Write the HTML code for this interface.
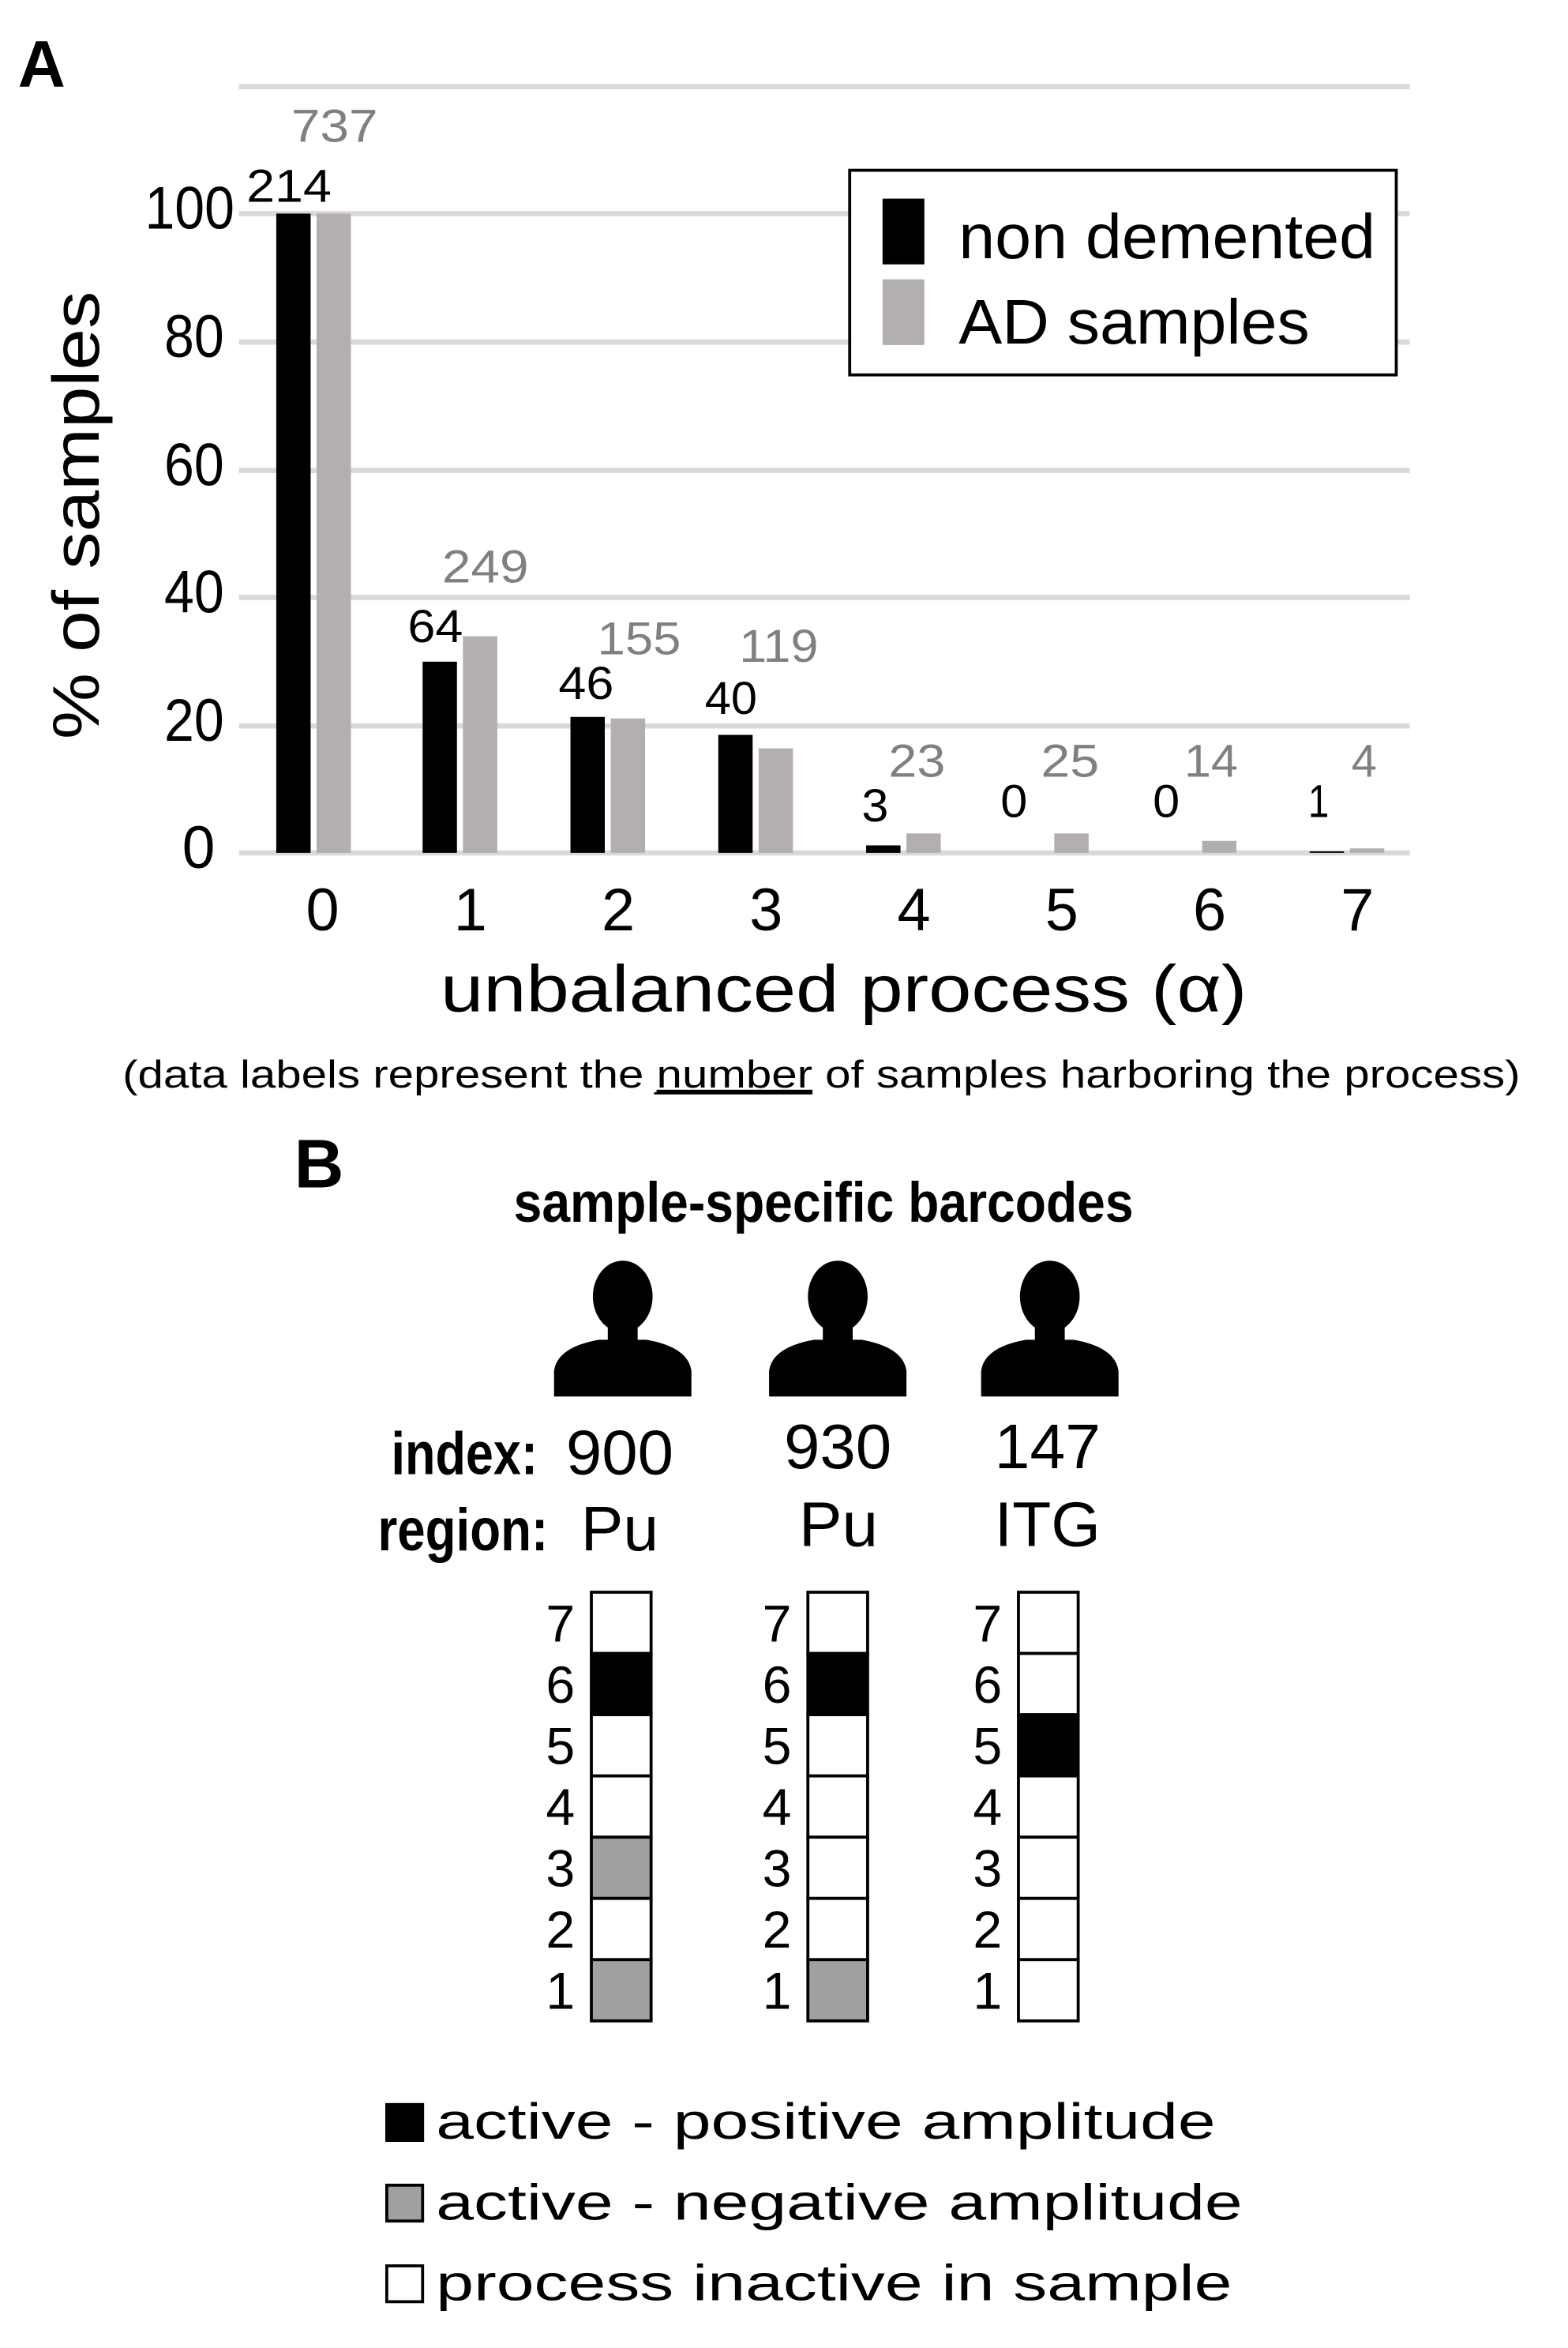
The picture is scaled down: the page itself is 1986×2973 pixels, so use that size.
<!DOCTYPE html>
<html><head><meta charset="utf-8"><style>html,body{margin:0;padding:0;background:#fff}svg{display:block}</style></head>
<body>
<svg width="1986" height="2973" viewBox="0 0 1050 1572" preserveAspectRatio="none" xmlns="http://www.w3.org/2000/svg" font-family="Liberation Sans, Arial, sans-serif">
<rect width="1050" height="1572" fill="#fff"/>
<text x="12" y="58" font-size="44" font-weight="bold">A</text>
<g stroke="#d9d9d9" stroke-width="3.5">
<line x1="160" x2="944" y1="58" y2="58"/><line x1="160" x2="944" y1="143" y2="143"/>
<line x1="160" x2="944" y1="229" y2="229"/><line x1="160" x2="944" y1="315" y2="315"/>
<line x1="160" x2="944" y1="400" y2="400"/><line x1="160" x2="944" y1="486" y2="486"/>
<line x1="160" x2="944" y1="571" y2="571"/>
</g>
<g font-size="40" text-anchor="end">
<text x="157" y="153" textLength="60" lengthAdjust="spacingAndGlyphs">100</text>
<text x="150" y="239" textLength="40" lengthAdjust="spacingAndGlyphs">80</text>
<text x="150" y="325" textLength="40" lengthAdjust="spacingAndGlyphs">60</text>
<text x="150" y="410" textLength="40" lengthAdjust="spacingAndGlyphs">40</text>
<text x="150" y="496" textLength="40" lengthAdjust="spacingAndGlyphs">20</text>
<text x="144" y="581" textLength="22" lengthAdjust="spacingAndGlyphs">0</text>
</g>
<text transform="translate(66,345) rotate(-90)" font-size="44" text-anchor="middle" textLength="300" lengthAdjust="spacingAndGlyphs">% of samples</text>
<g fill="#000">
<rect x="185" y="143" width="23" height="428"/>
<rect x="283" y="443" width="23" height="128"/>
<rect x="382" y="480" width="23" height="91"/>
<rect x="481" y="492" width="23" height="79"/>
<rect x="580" y="566" width="23" height="5"/>
<rect x="877" y="570" width="23" height="1"/>
</g>
<g fill="#b3afaf">
<rect x="212" y="143" width="23" height="428"/>
<rect x="310" y="426" width="23" height="145"/>
<rect x="409" y="481" width="23" height="90"/>
<rect x="508" y="501" width="23" height="70"/>
<rect x="607" y="558" width="23" height="13"/>
<rect x="706" y="558" width="23" height="13"/>
<rect x="805" y="563" width="23" height="8"/>
<rect x="904" y="568" width="23" height="3"/>
</g>
<g font-size="31" fill="#000">
<text x="165" y="135" textLength="57" lengthAdjust="spacingAndGlyphs">214</text>
<text x="273" y="430" textLength="37" lengthAdjust="spacingAndGlyphs">64</text>
<text x="374" y="468" textLength="37" lengthAdjust="spacingAndGlyphs">46</text>
<text x="472" y="478" textLength="35" lengthAdjust="spacingAndGlyphs">40</text>
<text x="577" y="550" textLength="18" lengthAdjust="spacingAndGlyphs">3</text>
<text x="670" y="547" textLength="18" lengthAdjust="spacingAndGlyphs">0</text>
<text x="772" y="547" textLength="18" lengthAdjust="spacingAndGlyphs">0</text>
<text x="876" y="547" textLength="14" lengthAdjust="spacingAndGlyphs">1</text>
</g>
<g font-size="31" fill="#808080">
<text x="195" y="95" textLength="58" lengthAdjust="spacingAndGlyphs">737</text>
<text x="296" y="390" textLength="58" lengthAdjust="spacingAndGlyphs">249</text>
<text x="400" y="438" textLength="56" lengthAdjust="spacingAndGlyphs">155</text>
<text x="495" y="443" textLength="53" lengthAdjust="spacingAndGlyphs">119</text>
<text x="595" y="520" textLength="38" lengthAdjust="spacingAndGlyphs">23</text>
<text x="697" y="520" textLength="39" lengthAdjust="spacingAndGlyphs">25</text>
<text x="793" y="520" textLength="36" lengthAdjust="spacingAndGlyphs">14</text>
<text x="905" y="520" textLength="17" lengthAdjust="spacingAndGlyphs">4</text>
</g>
<rect x="569" y="114" width="366" height="137" fill="#fff" stroke="#000" stroke-width="2"/>
<rect x="591" y="133" width="28" height="44" fill="#000"/>
<rect x="591" y="187" width="28" height="44" fill="#b3afaf"/>
<text x="642" y="173" font-size="42" textLength="279" lengthAdjust="spacingAndGlyphs">non demented</text>
<text x="642" y="230" font-size="42" textLength="235" lengthAdjust="spacingAndGlyphs">AD samples</text>
<g font-size="40" text-anchor="middle">
<text x="216" y="623">0</text><text x="315" y="623">1</text><text x="414" y="623">2</text><text x="513" y="623">3</text>
<text x="612" y="623">4</text><text x="711" y="623">5</text><text x="810" y="623">6</text><text x="909" y="623">7</text>
</g>
<text x="295" y="677" font-size="44" textLength="540" lengthAdjust="spacingAndGlyphs">unbalanced process (α)</text>
<text x="82" y="728" font-size="26" textLength="936" lengthAdjust="spacingAndGlyphs">(data labels represent the <tspan text-decoration="underline">number</tspan> of samples harboring the process)</text>
<line x1="438" x2="544" y1="732" y2="732" stroke="#000" stroke-width="1.5"/>
<text x="197" y="795" font-size="46" font-weight="bold">B</text>
<text x="344" y="818" font-size="38" font-weight="bold" textLength="415" lengthAdjust="spacingAndGlyphs">sample-specific barcodes</text>
<g fill="#000">
<g transform="translate(417,0)"><ellipse cx="0" cy="868" rx="20" ry="24"/><rect x="-10" y="885" width="20" height="14"/><path d="M-46 935 L-46 918 Q-44 902 -16 897 L16 897 Q44 902 46 918 L46 935 Z"/></g>
<g transform="translate(561,0)"><ellipse cx="0" cy="868" rx="20" ry="24"/><rect x="-10" y="885" width="20" height="14"/><path d="M-46 935 L-46 918 Q-44 902 -16 897 L16 897 Q44 902 46 918 L46 935 Z"/></g>
<g transform="translate(703,0)"><ellipse cx="0" cy="868" rx="20" ry="24"/><rect x="-10" y="885" width="20" height="14"/><path d="M-46 935 L-46 918 Q-44 902 -16 897 L16 897 Q44 902 46 918 L46 935 Z"/></g>
</g>
<text x="262" y="987" font-size="40" font-weight="bold" textLength="98" lengthAdjust="spacingAndGlyphs">index:</text>
<text x="253" y="1038" font-size="40" font-weight="bold" textLength="114" lengthAdjust="spacingAndGlyphs">region:</text>
<g font-size="42">
<text x="379" y="987" textLength="72" lengthAdjust="spacingAndGlyphs">900</text>
<text x="389" y="1038" textLength="52" lengthAdjust="spacingAndGlyphs">Pu</text>
<text x="525" y="983" textLength="72" lengthAdjust="spacingAndGlyphs">930</text>
<text x="535" y="1035" textLength="53" lengthAdjust="spacingAndGlyphs">Pu</text>
<text x="666" y="983" textLength="71" lengthAdjust="spacingAndGlyphs">147</text>
<text x="666" y="1035" textLength="71" lengthAdjust="spacingAndGlyphs">ITG</text>
</g>
<g stroke="#000" stroke-width="2">
<g fill="#fff">
<rect x="396" y="1066" width="40" height="41"/><rect x="396" y="1107" width="40" height="41" fill="#000"/><rect x="396" y="1148" width="40" height="41"/><rect x="396" y="1189" width="40" height="41"/><rect x="396" y="1230" width="40" height="41" fill="#a0a0a0"/><rect x="396" y="1271" width="40" height="41"/><rect x="396" y="1312" width="40" height="41" fill="#a0a0a0"/>
<rect x="541" y="1066" width="40" height="41"/><rect x="541" y="1107" width="40" height="41" fill="#000"/><rect x="541" y="1148" width="40" height="41"/><rect x="541" y="1189" width="40" height="41"/><rect x="541" y="1230" width="40" height="41"/><rect x="541" y="1271" width="40" height="41"/><rect x="541" y="1312" width="40" height="41" fill="#a0a0a0"/>
<rect x="682" y="1066" width="40" height="41"/><rect x="682" y="1107" width="40" height="41"/><rect x="682" y="1148" width="40" height="41" fill="#000"/><rect x="682" y="1189" width="40" height="41"/><rect x="682" y="1230" width="40" height="41"/><rect x="682" y="1271" width="40" height="41"/><rect x="682" y="1312" width="40" height="41"/>
</g></g>
<g font-size="35" text-anchor="end">
<text x="385" y="1099">7</text><text x="385" y="1140">6</text><text x="385" y="1181">5</text><text x="385" y="1222">4</text><text x="385" y="1263">3</text><text x="385" y="1304">2</text><text x="385" y="1345">1</text>
<text x="530" y="1099">7</text><text x="530" y="1140">6</text><text x="530" y="1181">5</text><text x="530" y="1222">4</text><text x="530" y="1263">3</text><text x="530" y="1304">2</text><text x="530" y="1345">1</text>
<text x="671" y="1099">7</text><text x="671" y="1140">6</text><text x="671" y="1181">5</text><text x="671" y="1222">4</text><text x="671" y="1263">3</text><text x="671" y="1304">2</text><text x="671" y="1345">1</text>
</g>
<rect x="258" y="1408" width="26" height="26" fill="#000"/>
<rect x="259" y="1463" width="24" height="24" fill="#a0a0a0" stroke="#000" stroke-width="2"/>
<rect x="259" y="1517" width="24" height="24" fill="#fff" stroke="#000" stroke-width="2"/>
<g font-size="34">
<text x="292" y="1432" textLength="522" lengthAdjust="spacingAndGlyphs">active - positive amplitude</text>
<text x="292" y="1486" textLength="540" lengthAdjust="spacingAndGlyphs">active - negative amplitude</text>
<text x="292" y="1540" textLength="533" lengthAdjust="spacingAndGlyphs">process inactive in sample</text>
</g>
</svg>
</body></html>
